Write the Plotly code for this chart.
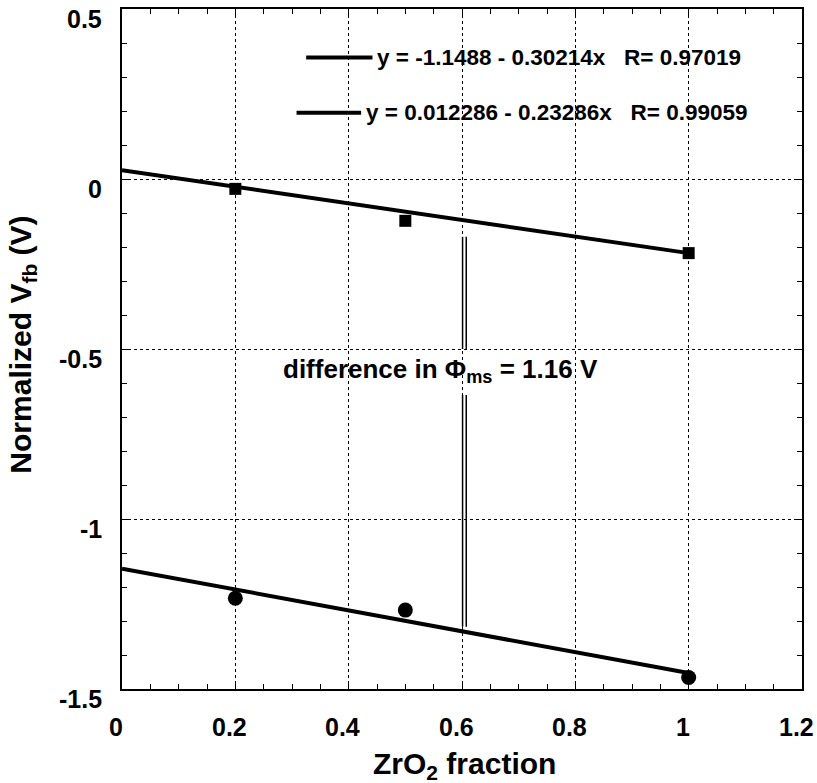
import plotly.graph_objects as go

# ZrO2 fraction
x_pts = [0.2, 0.5, 1.0]
# Normalized Vfb (V)
sq_vals = [-0.029, -0.123, -0.218]
circ_vals = [-1.233, -1.268, -1.466]

# fit lines (x from 0 to 1)
fit_x = [0.0, 1.0]
fit_top = [0.026, -0.218]
fit_bot = [-1.146, -1.453]

# tick labels
x_tickvals = [0, 0.2, 0.4, 0.6, 0.8, 1.0, 1.2]
x_ticktext = ["0", "0.2", "0.4", "0.6", "0.8", "1", "1.2"]
y_tickvals = [0.5, 0, -0.5, -1, -1.5]
y_ticktext = ["0.5", "0", "-0.5", "-1", "-1.5"]

legend_texts = ["y = -1.1488 - 0.30214x   R= 0.97019",
                "y = 0.012286 - 0.23286x   R= 0.99059"]
legend_line_x = [[0.325, 0.442], [0.308, 0.422]]
legend_y = [0.357, 0.195]

diff_x = [0.601, 0.6075]
diff_seg_y = [[-0.17, -0.50], [-0.635, -1.317]]

FONT = "Liberation Sans, Arial, sans-serif"
blk = "black"

fig = go.Figure()

fig.add_trace(go.Scatter(x=fit_x, y=fit_top, mode="lines",
                         line=dict(color=blk, width=4), showlegend=False))
fig.add_trace(go.Scatter(x=fit_x, y=fit_bot, mode="lines",
                         line=dict(color=blk, width=4), showlegend=False))
fig.add_trace(go.Scatter(x=x_pts, y=sq_vals, mode="markers",
                         marker=dict(symbol="square", size=12, color=blk),
                         showlegend=False))
fig.add_trace(go.Scatter(x=x_pts, y=circ_vals, mode="markers",
                         marker=dict(symbol="circle", size=15, color=blk),
                         showlegend=False))

# legend samples
for lx, ly, txt in zip(legend_line_x, legend_y, legend_texts):
    fig.add_trace(go.Scatter(x=lx, y=[ly, ly], mode="lines",
                             line=dict(color=blk, width=4), showlegend=False))
    fig.add_annotation(x=lx[1], y=ly, xref="x", yref="y", text="<b>" + txt + "</b>",
                       showarrow=False, xanchor="left", yanchor="middle", xshift=3,
                       font=dict(family=FONT, size=22.5, color=blk))

# double vertical line
for dx in diff_x:
    xs, ys = [], []
    for seg in diff_seg_y:
        xs += [dx, dx, None]
        ys += [seg[0], seg[1], None]
    fig.add_trace(go.Scatter(x=xs, y=ys, mode="lines",
                             line=dict(color=blk, width=1.5), showlegend=False))

fig.add_annotation(x=0.562, y=-0.562, xref="x", yref="y",
                   text="<b>difference in \u03a6<sub>ms</sub> = 1.16 V</b>",
                   showarrow=False, font=dict(family=FONT, size=26, color=blk))

# tick labels (slightly offset, as in the original)
for v, t in zip(x_tickvals, x_ticktext):
    fig.add_annotation(x=v, y=-0.0566, xref="x", yref="paper", text="<b>" + t + "</b>",
                       showarrow=False, xanchor="center", yanchor="middle", xshift=-6,
                       font=dict(family=FONT, size=25, color=blk))
for v, t in zip(y_tickvals, y_ticktext):
    fig.add_annotation(x=-0.026, y=v, xref="paper", yref="y", text="<b>" + t + "</b>",
                       showarrow=False, xanchor="right", yanchor="middle", yshift=-10,
                       font=dict(family=FONT, size=25, color=blk))

# axis titles
fig.add_annotation(x=0.504, y=-0.113, xref="paper", yref="paper",
                   text="<b>ZrO<sub>2</sub> fraction</b>", showarrow=False,
                   xanchor="center", yanchor="middle",
                   font=dict(family=FONT, size=30, color=blk))
fig.add_annotation(x=-0.146, y=0.506, xref="paper", yref="paper",
                   text="<b>Normalized V<sub>fb</sub> (V)</b>", showarrow=False,
                   textangle=-90, xanchor="center", yanchor="middle",
                   font=dict(family=FONT, size=30, color=blk))

axis_common = dict(
    showline=True, linecolor=blk, linewidth=1.5, mirror="allticks",
    ticks="inside", ticklen=6, tickcolor=blk, tickwidth=1,
    showgrid=True, gridcolor=blk, gridwidth=1, griddash="3px,3px",
    zeroline=False, automargin=False, showticklabels=False,
)

fig.update_xaxes(range=[0, 1.2],
                 minor=dict(dtick=0.05, ticks="inside", ticklen=5, tickcolor=blk, showgrid=False),
                 tickvals=x_tickvals,
                 **axis_common)
fig.update_yaxes(range=[-1.5, 0.5],
                 minor=dict(dtick=0.1, ticks="inside", ticklen=5, tickcolor=blk, showgrid=False),
                 tickvals=y_tickvals,
                 **axis_common)

fig.update_layout(width=817, height=783,
                  margin=dict(l=122, r=15, t=9, b=94),
                  plot_bgcolor="white", paper_bgcolor="white",
                  showlegend=False)

fig.write_html("out.html")
